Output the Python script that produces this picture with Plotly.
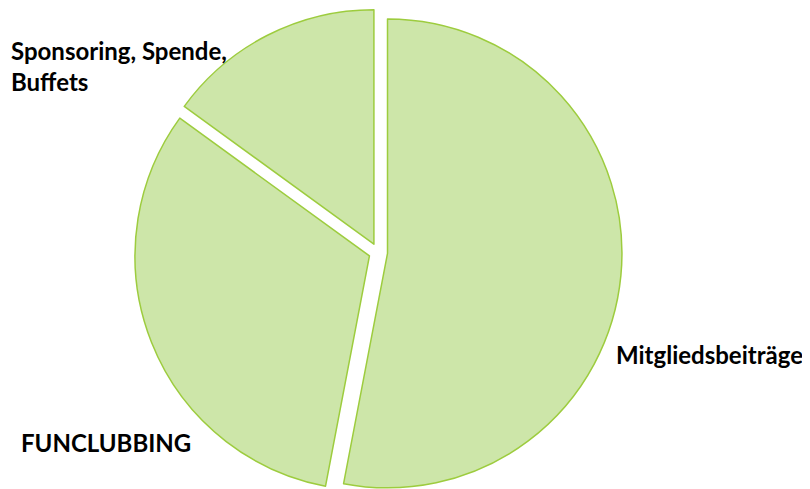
import plotly.graph_objects as go

categories = ["Mitgliedsbeiträge", "FUNCLUBBING", "Sponsoring, Spende,<br>Buffets"]
values = [53, 32, 15]

fill = "#cde6a9"
edge = "#9dcc3e"

fig = go.Figure(go.Pie(
    labels=categories,
    values=values,
    sort=False,
    direction="clockwise",
    rotation=0,
    pull=[0.04, 0.04, 0.04],
    marker=dict(colors=[fill] * 3, line=dict(color=edge, width=1.5)),
    textinfo="none",
    hoverinfo="label+percent",
    domain=dict(x=[0.156, 0.758], y=[0, 1]),
    showlegend=False,
))

font = dict(family="Lato, Calibri, Carlito, sans-serif", size=24, color="#000000")
label_pos = [(606, 346), (11, 434), (1, 58)]
for text, (px, py) in zip(categories, label_pos):
    fig.add_annotation(
        text="<b>" + text + "</b>", xref="paper", yref="paper",
        x=px / 810, y=1 - py / 489, xanchor="left", yanchor="middle",
        showarrow=False, align="left", font=font,
    )

fig.update_layout(
    width=810, height=489,
    margin=dict(l=0, r=0, t=0, b=0),
    paper_bgcolor="white", plot_bgcolor="white",
)
fig.write_html("out.html")
